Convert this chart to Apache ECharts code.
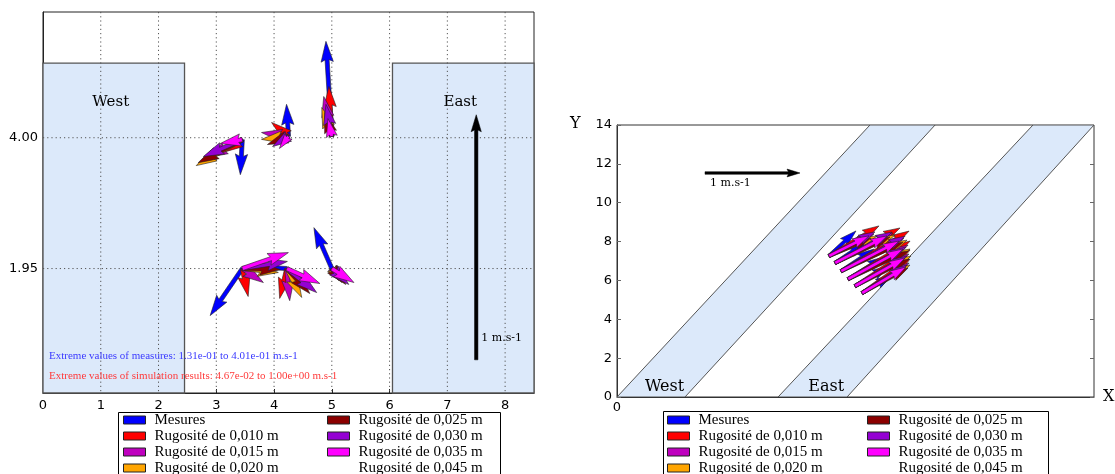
<!DOCTYPE html>
<html><head><meta charset="utf-8">
<script src="https://cdn.jsdelivr.net/npm/echarts@6/dist/echarts.min.js"></script>
<style>html,body{margin:0;padding:0;background:#fff}#c{width:1115px;height:474px}</style>
</head><body><div id="c"></div>
<script>
// ---------- shared legend ----------
const seriesNames = ['Mesures','Rugosité de 0,010 m','Rugosité de 0,015 m','Rugosité de 0,020 m',
  'Rugosité de 0,025 m','Rugosité de 0,030 m','Rugosité de 0,035 m','Rugosité de 0,045 m'];
const seriesColors = ['#0000ff','#ff0000','#bf00bf','#ffa500','#8b0000','#9400d3','#ff00ff',null];

// ---------- left chart (plan view) ----------
const leftXTicks = [0,1,2,3,4,5,6,7,8];
const leftYTicks = [1.95, 4.00];
const leftOrigins = [[3.45,3.97],[4.25,4.02],[5.0,4.02],[3.45,1.95],[4.22,1.95],[5.0,1.95]];
// velocity components (u, v) in m.s-1 at each origin
const leftMesures = [[-0.008,-0.143],[-0.008,0.131],[-0.024,0.388],[-0.131,-0.192],[-0.131,0.008],[-0.073,0.167]];
const leftR010 = [[-0.082,-0.053],[-0.069,0.057],[-0.012,0.204],[0.024,-0.114],[-0.029,-0.122],[0.012,-0.037]];
const leftR015 = [[-0.143,-0.073],[-0.110,0.016],[-0.033,0.163],[0.086,-0.057],[0.012,-0.131],[0.029,-0.049]];
const leftR020 = [[-0.188,-0.106],[-0.110,-0.012],[-0.041,0.118],[0.147,-0.016],[0.061,-0.118],[0.041,-0.057]];
const leftR025 = [[-0.180,-0.094],[-0.086,-0.033],[-0.029,0.098],[0.155,-0.004],[0.094,-0.102],[0.057,-0.065]];
const leftR030 = [[-0.159,-0.069],[-0.065,-0.041],[-0.024,0.131],[0.184,0.029],[0.122,-0.098],[0.069,-0.065]];
const leftR035 = [[-0.090,-0.016],[-0.037,-0.049],[-0.016,0.073],[0.188,0.065],[0.135,-0.061],[0.090,-0.057]];
const leftR045 = [];
const leftBuildings = [[0,0,2.45,5.17],[6.05,0,8.5,5.17]];
const leftBuildingNames = ['West','East'];
const leftScale = [[7.5,0.52,0,1]];

// ---------- right chart (rotated view) ----------
const rightOrigins = [[10.91,7.26],[11.22,6.90],[11.53,6.48],[11.89,6.07],[12.25,5.71],[12.61,5.35]];
const rightMesures = [[0.284,0.263],[0.316,0.211],[0.347,0.232],[0.379,0.232],[0.358,0.211],[0.316,0.189]];
const rightR010 = [[0.526,0.316],[0.684,0.368],[0.716,0.421],[0.653,0.400],[0.579,0.379],[0.505,0.358]];
const rightR015 = [[0.474,0.232],[0.611,0.316],[0.663,0.347],[0.632,0.358],[0.568,0.337],[0.495,0.316]];
const rightR020 = [[0.505,0.211],[0.632,0.295],[0.695,0.326],[0.653,0.316],[0.589,0.316],[0.505,0.295]];
const rightR025 = [[0.442,0.189],[0.579,0.274],[0.653,0.305],[0.632,0.295],[0.568,0.284],[0.484,0.263]];
const rightR030 = [[0.484,0.253],[0.600,0.326],[0.674,0.368],[0.611,0.337],[0.547,0.316],[0.474,0.295]];
const rightR035 = [[0.421,0.211],[0.547,0.284],[0.611,0.316],[0.579,0.316],[0.526,0.295],[0.463,0.274]];
const rightR045 = [];
const rightBands = [[0,0,3.5,0,16.37,14,13.02,14],[8.29,0,11.84,0,24.55,14,21.41,14]];
const rightBandNames = ['West','East'];
const rightScale = [[4.53,11.53,1,0]];

// ---------- helpers ----------
function arrowShape(o, dx, dy, w) {
  const L = Math.hypot(dx, dy);
  if (L < 0.3) return null;
  let s = w, hw = 3 * w, hl = 5 * w, hal = 4.5 * w;
  if (L < hl) { const f = L / hl; s *= f; hw *= f; hl *= f; hal *= f; }
  const c = dx / L, sn = dy / L;
  const loc = [[0,-s/2],[L-hal,-s/2],[L-hl,-hw/2],[L,0],[L-hl,hw/2],[L-hal,s/2],[0,s/2]];
  return loc.map(([a, b]) => [o[0] + a * c - b * sn, o[1] + a * sn + b * c]);
}
function arrowRender(K, w, color, stroke) {
  return function (params, api) {
    const o = api.coord([api.value(0), api.value(1)]);
    const ppm = api.size([0, K])[1];
    const pts = arrowShape(o, api.value(2) * ppm, -api.value(3) * ppm, w);
    if (!pts) return;
    return { type: 'polygon', shape: { points: pts },
      style: { fill: color, stroke: stroke, lineWidth: 0.6 } };
  };
}
function combine(origins, vecs) { return vecs.map((v, i) => origins[i].concat(v)); }

const LEFT_K = 3.84, RIGHT_K = 4.89;
const leftSets = [leftMesures, leftR010, leftR015, leftR020, leftR025, leftR030, leftR035, leftR045];
const rightSets = [rightMesures, rightR010, rightR015, rightR020, rightR025, rightR030, rightR035, rightR045];

const series = [];
// left buildings
series.push({ type: 'custom', xAxisIndex: 0, yAxisIndex: 0, silent: true, z: 1,
  data: leftBuildings,
  renderItem(params, api) {
    const p0 = api.coord([api.value(0), api.value(3)]);
    const p1 = api.coord([api.value(2), api.value(1)]);
    const t = api.coord([(api.value(0) + api.value(2)) / 2, api.value(3) - 0.6]);
    return { type: 'group', children: [
      { type: 'rect', shape: { x: p0[0], y: p0[1], width: p1[0] - p0[0], height: p1[1] - p0[1] },
        style: { fill: '#dce9fa', stroke: '#555', lineWidth: 1.3 } },
      { type: 'text', x: t[0] - 3, y: t[1] + 1, style: { text: leftBuildingNames[params.dataIndex],
        font: '15px "DejaVu Serif"', fill: '#000', align: 'center', verticalAlign: 'middle' } }
    ] };
  } });
// left grid lines
series.push({ type: 'custom', xAxisIndex: 0, yAxisIndex: 0, silent: true, z: 1,
  data: leftXTicks.slice(1).map(v => [v, 0]).concat(leftYTicks.map(v => [0, v])),
  renderItem(params, api) {
    const cs = params.coordSys;
    const ls = { stroke: '#555', lineWidth: 1, lineDash: [1.2, 3] };
    if (params.dataIndex < leftXTicks.length - 1) {
      const x = api.coord([api.value(0), 0])[0];
      return { type: 'line', shape: { x1: x, y1: cs.y, x2: x, y2: cs.y + cs.height }, style: ls };
    }
    const y = api.coord([0, api.value(1)])[1];
    return { type: 'line', shape: { x1: cs.x, y1: y, x2: cs.x + cs.width, y2: y }, style: ls };
  } });
// right bands
series.push({ type: 'custom', xAxisIndex: 1, yAxisIndex: 1, silent: true, z: 1, clip: true,
  data: rightBands,
  renderItem(params, api) {
    const pts = [0, 1, 2, 3].map(k => api.coord([api.value(2 * k), api.value(2 * k + 1)]));
    const t = api.coord([(api.value(0) + api.value(2)) / 2 + 0.7, 0.5]);
    return { type: 'group', children: [
      { type: 'polygon', shape: { points: pts }, style: { fill: '#dce9fa', stroke: '#555', lineWidth: 1 } },
      { type: 'text', x: t[0], y: t[1], style: { text: rightBandNames[params.dataIndex],
        font: '16px "DejaVu Serif"', fill: '#000', align: 'center', verticalAlign: 'middle' } }
    ] };
  } });
// arrows
seriesNames.forEach((n, i) => {
  const col = seriesColors[i] || 'rgba(0,0,0,0)';
  series.push({ type: 'custom', name: n, xAxisIndex: 0, yAxisIndex: 0, silent: true, z: 3,
    itemStyle: { color: col }, data: combine(leftOrigins, leftSets[i]),
    renderItem: arrowRender(LEFT_K, 4.1, col, '#222') });
  series.push({ type: 'custom', name: n, xAxisIndex: 1, yAxisIndex: 1, silent: true, z: 3, clip: true,
    itemStyle: { color: col }, data: combine(rightOrigins, rightSets[i]),
    renderItem: arrowRender(RIGHT_K, 3.3, col, '#222') });
});
// scale arrows
series.push({ type: 'custom', xAxisIndex: 0, yAxisIndex: 0, silent: true, z: 4, data: leftScale,
  renderItem(params, api) {
    const o = api.coord([api.value(0), api.value(1)]);
    const ppm = api.size([0, LEFT_K])[1];
    const pts = arrowShape(o, api.value(2) * ppm, -api.value(3) * ppm, 3.4);
    return { type: 'group', children: [
      { type: 'polygon', shape: { points: pts }, style: { fill: '#000', stroke: '#000', lineWidth: 0.5 } },
      { type: 'text', x: o[0] + 5, y: o[1] - 22, style: { text: '1 m.s-1', font: '11px "DejaVu Serif"',
        fill: '#000', verticalAlign: 'middle' } }
    ] };
  } });
series.push({ type: 'custom', xAxisIndex: 1, yAxisIndex: 1, silent: true, z: 4, data: rightScale,
  renderItem(params, api) {
    const o = api.coord([api.value(0), api.value(1)]);
    const ppm = api.size([0, RIGHT_K])[1];
    const pts = arrowShape(o, api.value(2) * ppm, -api.value(3) * ppm, 2.6);
    return { type: 'group', children: [
      { type: 'polygon', shape: { points: pts }, style: { fill: '#000', stroke: '#000', lineWidth: 0.5 } },
      { type: 'text', x: o[0] + 5, y: o[1] + 10, style: { text: '1 m.s-1', font: '11px "DejaVu Serif"',
        fill: '#000', verticalAlign: 'middle' } }
    ] };
  } });

function legendData(names) {
  return names.map(n => {
    const c = seriesColors[seriesNames.indexOf(n)];
    return { name: n, itemStyle: c ? { color: c, borderColor: '#222', borderWidth: 1 }
      : { color: 'rgba(0,0,0,0)', borderWidth: 0 } };
  });
}
function legend(left, top, names) {
  return { orient: 'horizontal', left, top, width: 2, padding: 0, itemGap: 0, itemWidth: 22, itemHeight: 8,
    icon: 'rect', selectedMode: false, data: legendData(names),
    textStyle: { fontFamily: 'Liberation Serif', fontSize: 15, lineHeight: 16, color: '#000', padding: [0, 0, 0, 4] } };
}

const axisFont = { fontFamily: 'DejaVu Sans', fontSize: 13, color: '#000' };
const option = {
  animation: false,
  backgroundColor: '#fff',
  grid: [
    { left: 43, top: 12, width: 491, height: 381, show: true, borderColor: '#222', borderWidth: 1 },
    { left: 617, top: 125, width: 477, height: 272, show: true, borderColor: '#333', borderWidth: 1 }
  ],
  xAxis: [
    { type: 'value', gridIndex: 0, min: 0, max: 8.5, interval: 1,
      axisLine: { lineStyle: { color: '#222' } },
      axisTick: { inside: true, length: 4, lineStyle: { color: '#222' } },
      axisLabel: Object.assign({ margin: 6, showMaxLabel: false }, axisFont),
      splitLine: { show: false } },
    { type: 'value', gridIndex: 1, min: 0, max: 24.55,
      axisLine: { lineStyle: { color: '#333' } }, axisTick: { show: false },
      axisLabel: Object.assign({ margin: 4, customValues: [0] }, axisFont),
      splitLine: { show: false } }
  ],
  yAxis: [
    { type: 'value', gridIndex: 0, min: 0, max: 5.97,
      axisLine: { lineStyle: { color: '#222' } },
      axisTick: { inside: true, length: 4, customValues: leftYTicks, lineStyle: { color: '#222' } },
      axisLabel: Object.assign({ margin: 5, customValues: leftYTicks, formatter: v => v.toFixed(2) }, axisFont),
      splitLine: { show: false } },
    { type: 'value', gridIndex: 1, min: 0, max: 14, interval: 2,
      axisLine: { lineStyle: { color: '#333' } },
      axisTick: { inside: true, length: 4, lineStyle: { color: '#666' } },
      axisLabel: Object.assign({ margin: 5 }, axisFont),
      splitLine: { show: false } },
    { type: 'value', gridIndex: 1, min: 0, max: 14, interval: 2, position: 'right',
      axisLine: { show: false },
      axisTick: { inside: true, length: 4, lineStyle: { color: '#666' } },
      axisLabel: { show: false }, splitLine: { show: false } }
  ],
  legend: [
    legend(123, 412, seriesNames.slice(0, 4)), legend(327, 412, seriesNames.slice(4)),
    legend(667, 412, seriesNames.slice(0, 4)), legend(867, 412, seriesNames.slice(4))
  ],
  graphic: [
    { type: 'rect', shape: { x: 118.5, y: 412.5, width: 382, height: 90 }, style: { fill: 'none', stroke: '#000', lineWidth: 1 }, z: 10 },
    { type: 'rect', shape: { x: 663.5, y: 411.5, width: 385, height: 90 }, style: { fill: 'none', stroke: '#000', lineWidth: 1 }, z: 10 },
    { type: 'text', left: 49, top: 351, z: 10, style: { text: 'Extreme values of measures: 1.31e-01 to 4.01e-01 m.s-1', font: '11px "Liberation Serif"', fill: '#3a3aff' } },
    { type: 'text', left: 49, top: 371, z: 10, style: { text: 'Extreme values of simulation results: 4.67e-02 to 1.00e+00 m.s-1', font: '11px "Liberation Serif"', fill: '#ff3a3a' } },
    { type: 'text', left: 570, top: 116, z: 10, style: { text: 'Y', font: '16px "DejaVu Serif"', fill: '#000' } },
    { type: 'text', left: 1103, top: 389, z: 10, style: { text: 'X', font: '16px "DejaVu Serif"', fill: '#000' } }
  ],
  series
};
const chart = echarts.init(document.getElementById('c'), null, { renderer: 'canvas' });
chart.setOption(option);
</script></body></html>
